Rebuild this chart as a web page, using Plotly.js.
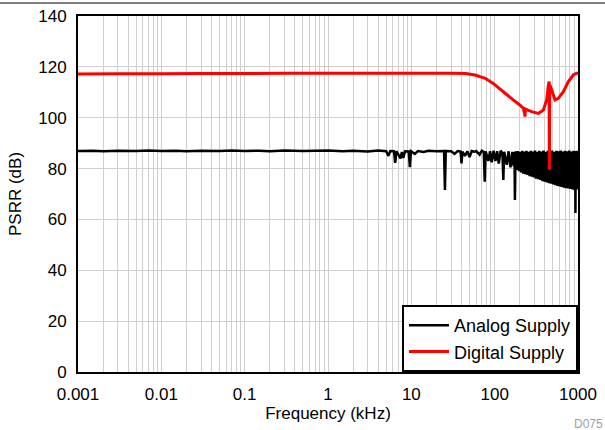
<!DOCTYPE html>
<html>
<head>
<meta charset="utf-8">
<script src="https://cdn.plot.ly/plotly-3.0.1.min.js"></script>
<style>
html,body{margin:0;padding:0;background:#fff;}
#chart{width:605px;height:430px;}
</style>
</head>
<body>
<div id="chart"></div>
<script>
// Analog supply PSRR (kHz, dB)
var freqAnalog = [0.001,0.0015,0.002,0.003,0.005,0.007,0.01,0.015,0.02,0.03,0.05,0.07,0.1,0.15,0.2,0.3,0.5,0.7,1,1.5,2,3,4,5,
  5.3,5.6,6.2,6.4,6.6,7.0,7.4,7.7,8.0,8.4,9.3,9.6,9.9,11,12,14,16,20,24.7,25.3,25.9,30,33,36,39,40,41,44,47,50,53,57,60,
  66,70,74,76,78,84,88,92,97,102,107,112,118,124,127,130,140,147,155,163,169,173,175,178,
  185,190,196,202,208,214,220,227,234,241,248,255,263,271,279,287,296,305,314,323,333,343,353,364,375,386,398,410,422,435,
  448,461,475,489,504,519,535,551,567,584,602,620,639,658,678,698,719,741,763,786,810,834,859,885,912,925,932,939,967,985,1000];
var psrrAnalog = [86.9,87.0,86.8,87.0,86.9,87.1,86.9,87.0,86.8,87.0,86.9,87.1,86.9,87.0,86.8,87.1,86.9,87.0,87.1,86.8,87.0,86.7,87.1,86.8,
  85.0,86.9,86.8,82.2,86.8,85.5,84.0,86.5,84.2,86.8,86.7,80.6,86.8,85.8,86.9,86.5,87.0,86.8,86.9,71.6,86.9,86.8,85.8,86.9,86.7,82.0,86.7,85.0,86.8,84.5,86.9,86.6,86.9,
  85.5,87.0,86.5,74.8,86.8,83.0,86.8,82.5,87.0,83.0,86.8,82.0,87.0,86.0,75.5,86.6,81.5,86.8,80.5,86.6,81.0,86.5,67.6,86.8,
  79.5,86.9,79.0,86.6,78.5,87.0,78.0,86.7,77.8,87.0,77.5,86.6,77.0,87.0,76.8,86.7,76.5,87.1,76.0,86.6,75.8,87.0,75.5,86.7,75.0,87.1,74.8,86.6,74.5,87.0,
  74.2,86.7,74.0,87.1,73.8,86.6,73.5,87.0,73.2,86.8,73.0,87.1,72.8,86.7,72.5,87.0,72.3,86.8,72.2,87.1,72.0,86.7,71.8,87.0,71.5,86.8,62.5,86.9,71.8,87.0,72.0];

// Digital supply PSRR (kHz, dB)
var freqDigital = [0.001,0.003,0.01,0.03,0.1,0.3,1,3,10,30,45,58,77,96,127,167,200,221,229,231,234,250,278,334,384,421,
  440,450,452,454,458,483,530,580,667,766,879,964,1000];
var psrrDigital = [117.2,117.3,117.3,117.4,117.4,117.5,117.5,117.5,117.5,117.5,117.4,116.8,115.5,113.5,110.2,107.0,105.0,103.7,101.5,100.4,103.4,103.0,102.4,101.7,103.0,107.0,
  112.5,114.2,80.1,80.1,113.0,111.0,107.0,107.6,110.2,114.2,116.8,117.5,117.5];

var xTickVals = [0.001,0.01,0.1,1,10,100,1000];
var xTickText = ["0.001","0.01","0.1","1","10","100","1000"];
var yTickVals = [0,20,40,60,80,100,120,140];

var font = "Liberation Sans, Arial, sans-serif";
var gridColor = "#cfcfcf";

var traces = [
  {x: freqAnalog, y: psrrAnalog, type: "scatter", mode: "lines", name: "Analog Supply",
   line: {color: "#000000", width: 2.5, simplify: false}},
  {x: freqDigital, y: psrrDigital, type: "scatter", mode: "lines", name: "Digital Supply",
   line: {color: "#ff0000", width: 3, simplify: false}}
];

var layout = {
  width: 605, height: 430,
  margin: {l: 78, r: 27, t: 16, b: 58},
  paper_bgcolor: "#ffffff", plot_bgcolor: "#ffffff",
  font: {family: font, size: 17, color: "#000"},
  showlegend: true,
  legend: {x: 1, xanchor: "right", y: 0, yanchor: "bottom", bgcolor: "#ffffff",
           bordercolor: "#000", borderwidth: 2, font: {family: font, size: 18, color: "#000"},
           itemwidth: 40, tracegroupgap: 0},
  xaxis: {type: "log", range: [-3, 3], tickmode: "array", tickvals: xTickVals, ticktext: xTickText,
          showline: true, linecolor: "#000", linewidth: 2, mirror: true, ticks: "",
          showgrid: true, gridcolor: gridColor, gridwidth: 1, zeroline: false,
          minor: {dtick: "D1", showgrid: true, gridcolor: gridColor, gridwidth: 1, ticks: ""},
          ticklabelstandoff: 6,
          tickfont: {family: font, size: 17, color: "#000"},
          title: {text: "Frequency (kHz)", font: {family: font, size: 17, color: "#000"}, standoff: 2}},
  yaxis: {range: [0, 140], tickmode: "array", tickvals: yTickVals,
          showline: true, linecolor: "#000", linewidth: 2, mirror: true, ticks: "",
          showgrid: true, gridcolor: gridColor, gridwidth: 1, zeroline: false,
          ticklabelstandoff: 6,
          tickfont: {family: font, size: 17, color: "#000"},
          title: {text: "PSRR (dB)", font: {family: font, size: 17, color: "#000"}, standoff: 12}},
  shapes: [{type: "line", xref: "paper", yref: "paper", x0: -0.2, x1: 1.2, y0: 1.0365, y1: 1.0365,
            line: {color: "#000", width: 1}}],
  annotations: [{text: "D075", xref: "paper", yref: "paper", x: 1.054, y: -0.145, xanchor: "right", yanchor: "middle",
                 showarrow: false, font: {family: font, size: 12, color: "#a0a0a0"}}]
};

Plotly.newPlot("chart", traces, layout, {staticPlot: true, displayModeBar: false});
</script>
</body>
</html>
